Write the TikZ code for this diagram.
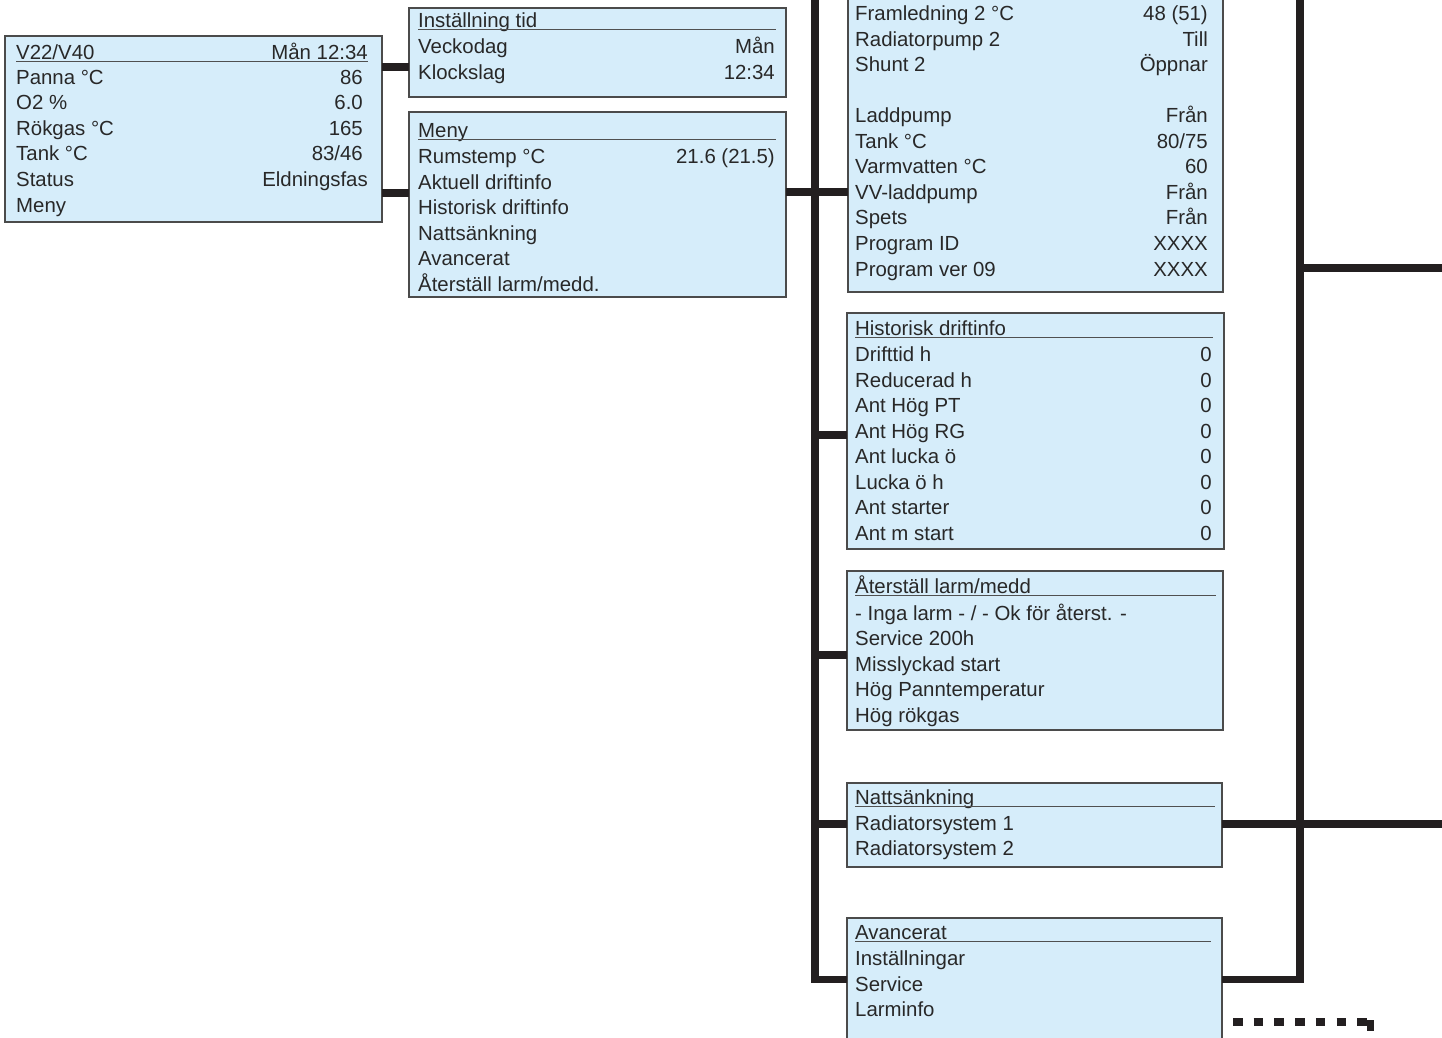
\documentclass[tikz,border=0pt]{standalone}
\usepackage{fontspec}
\setmainfont{Liberation Sans}
\definecolor{boxfill}{RGB}{214,237,250}
\definecolor{boxline}{RGB}{75,75,75}
\definecolor{hdrline}{RGB}{80,80,80}
\definecolor{trunk}{RGB}{35,31,32}
\definecolor{txt}{RGB}{40,40,40}
\tikzset{
  box/.style={draw=boxline, line width=1.6pt, fill=boxfill, inner sep=0pt, outer sep=0pt, anchor=north west},
  lt/.style={anchor=base west, inner sep=0pt, text=txt, font=\fontsize{20.4}{24}\selectfont},
  rt/.style={anchor=base east, inner sep=0pt, text=txt, font=\fontsize{20.4}{24}\selectfont},
  hdr/.style={draw=hdrline, line width=1.3pt},
  conn/.style={draw=trunk, line width=7.5pt, line join=miter},
  dotconn/.style={draw=trunk, line width=8pt, dash pattern=on 9.5pt off 11.2pt},
}
\newcommand\txl[4]{\node[lt] (#1) at (#2,#3) {#4};}
\newcommand\txr[4]{\node[rt] (#1) at (#2,#3) {#4};}
\begin{document}
\begin{tikzpicture}[x=1pt,y=-1pt]
\useasboundingbox (0,0) rectangle (1442,1037);
\clip (0,0) rectangle (1442,1037);

% ---------- boxes ----------
\node[box, minimum width=377pt, minimum height=186pt] (b1) at (5,36) {};
\node[box, minimum width=377pt, minimum height=89pt]  (b2) at (409,8) {};
\node[box, minimum width=377pt, minimum height=185pt] (b3) at (409,112) {};
\node[box, minimum width=375pt, minimum height=312pt] (b4) at (848,-20) {};
\node[box, minimum width=377pt, minimum height=236pt] (b5) at (847,313) {};
\node[box, minimum width=376pt, minimum height=159pt] (b6) at (847,571) {};
\node[box, minimum width=375pt, minimum height=84pt]  (b7) at (847,783) {};
\node[box, minimum width=375pt, minimum height=142pt] (b8) at (847,918) {};

% ---------- box 1 ----------
\txl{a0}{16}{59}{V22/V40}\txr{a0r}{368}{59}{Mån 12:34}
\draw[hdr] (16,61.5) -- (368,61.5);
\txl{a1}{16}{84}{Panna °C}\txr{a1r}{363}{84}{86}
\txl{a2}{16}{109.6}{O2 \%}\txr{a2r}{363}{109.6}{6.0}
\txl{a3}{16}{135.2}{Rökgas °C}\txr{a3r}{363}{135.2}{165}
\txl{a4}{16}{160.8}{Tank °C}\txr{a4r}{363}{160.8}{83/46}
\txl{a5}{16}{186.4}{Status}\txr{a5r}{368}{186.4}{Eldningsfas}
\txl{a6}{16}{212}{Meny}

% ---------- box 2 ----------
\txl{c0}{418}{27.5}{Inställning tid}
\draw[hdr] (418,29.5) -- (776,29.5);
\txl{c1}{418}{53.3}{Veckodag}\txr{c1r}{775}{53.3}{Mån}
\txl{c2}{418}{79}{Klockslag}\txr{c2r}{775}{79}{12:34}

% ---------- box 3 ----------
\txl{d0}{418}{137.3}{Meny}
\draw[hdr] (418,139.5) -- (776,139.5);
\txl{d1}{418}{163.3}{Rumstemp °C}\txr{d1r}{775}{163.3}{21.6 (21.5)}
\txl{d2}{418}{189}{Aktuell driftinfo}
\txl{d3}{418}{214.6}{Historisk driftinfo}
\txl{d4}{418}{240.2}{Nattsänkning}
\txl{d5}{418}{265.8}{Avancerat}
\txl{d6}{418}{291}{Återställ larm/medd.}

% ---------- box 4 ----------
\txl{e0}{855}{20.5}{Framledning 2 °C}\txr{e0r}{1208}{20.5}{48 (51)}
\txl{e1}{855}{46}{Radiatorpump 2}\txr{e1r}{1208}{46}{Till}
\txl{e2}{855}{71.6}{Shunt 2}\txr{e2r}{1208}{71.6}{Öppnar}
\txl{e3}{855}{122.7}{Laddpump}\txr{e3r}{1208}{122.7}{Från}
\txl{e4}{855}{148.3}{Tank °C}\txr{e4r}{1208}{148.3}{80/75}
\txl{e5}{855}{173.8}{Varmvatten °C}\txr{e5r}{1208}{173.8}{60}
\txl{e6}{855}{199.4}{VV-laddpump}\txr{e6r}{1208}{199.4}{Från}
\txl{e7}{855}{224.9}{Spets}\txr{e7r}{1208}{224.9}{Från}
\txl{e8}{855}{250.5}{Program ID}\txr{e8r}{1208}{250.5}{XXXX}
\txl{e9}{855}{276}{Program ver 09}\txr{e9r}{1208}{276}{XXXX}

% ---------- box 5 ----------
\txl{f0}{855}{335}{Historisk driftinfo}
\draw[hdr] (855,337.5) -- (1213,337.5);
\txl{f1}{855}{361.7}{Drifttid h}\txr{f1r}{1212}{361.7}{0}
\txl{f2}{855}{387.2}{Reducerad h}\txr{f2r}{1212}{387.2}{0}
\txl{f3}{855}{412.7}{Ant Hög PT}\txr{f3r}{1212}{412.7}{0}
\txl{f4}{855}{438.2}{Ant Hög RG}\txr{f4r}{1212}{438.2}{0}
\txl{f5}{855}{463.7}{Ant lucka ö}\txr{f5r}{1212}{463.7}{0}
\txl{f6}{855}{489.2}{Lucka ö h}\txr{f6r}{1212}{489.2}{0}
\txl{f7}{855}{514.7}{Ant starter}\txr{f7r}{1212}{514.7}{0}
\txl{f8}{855}{540.2}{Ant m start}\txr{f8r}{1212}{540.2}{0}

% ---------- box 6 ----------
\txl{g0}{855}{593.5}{Återställ larm/medd}
\draw[hdr] (855,595.5) -- (1216,595.5);
\txl{g1}{855}{620}{- Inga larm - / - Ok för återst. -}
\txl{g2}{855}{645.5}{Service 200h}
\txl{g3}{855}{671}{Misslyckad start}
\txl{g4}{855}{696.5}{Hög Panntemperatur}
\txl{g5}{855}{722}{Hög rökgas}

% ---------- box 7 ----------
\txl{h0}{855}{804.5}{Nattsänkning}
\draw[hdr] (855,806.5) -- (1215,806.5);
\txl{h1}{855}{830}{Radiatorsystem 1}
\txl{h2}{855}{855.5}{Radiatorsystem 2}

% ---------- box 8 ----------
\txl{k0}{855}{939.5}{Avancerat}
\draw[hdr] (855,941.5) -- (1211,941.5);
\txl{k1}{855}{965.5}{Inställningar}
\txl{k2}{855}{991}{Service}
\txl{k3}{855}{1016.5}{Larminfo}

% ---------- connectors ----------
\coordinate (ja) at (0,67);
\coordinate (jb) at (0,193);
\coordinate (jc) at (815,192);
\coordinate (jd) at (815,435);
\coordinate (je) at (815,655);
\coordinate (jf) at (815,824);
\coordinate (jg) at (815,979.5);
\coordinate (ltop) at (815,-10);
\coordinate (rtop) at (1300,-10);
\coordinate (rg) at (1300,979.5);
\coordinate (rh) at (1300,268);
\coordinate (rhend) at (1452,268);
\coordinate (ri) at (1452,824);
\coordinate (ds) at (1233,1022);
\coordinate (de) at (1367,1022);

\draw[conn] (b1.east |- ja) -- (b2.west |- ja);
\draw[conn] (b1.east |- jb) -- (b3.west |- jb);
\draw[conn] (b3.east |- jc) -- (b4.west |- jc);
\draw[conn] (ltop) -- (jg) -- (b8.west |- jg);
\draw[conn] (jd) -- (b5.west |- jd);
\draw[conn] (je) -- (b6.west |- je);
\draw[conn] (jf) -- (b7.west |- jf);
\draw[conn] (rtop) -- (rg) -- (b8.east |- rg);
\draw[conn] (rh) -- (rhend);
\draw[conn] (b7.east |- ri) -- (ri);
\draw[dotconn] (ds) -- (de);
\fill[trunk] (1366.5,1020) rectangle (1374,1031);
\end{tikzpicture}
\end{document}
